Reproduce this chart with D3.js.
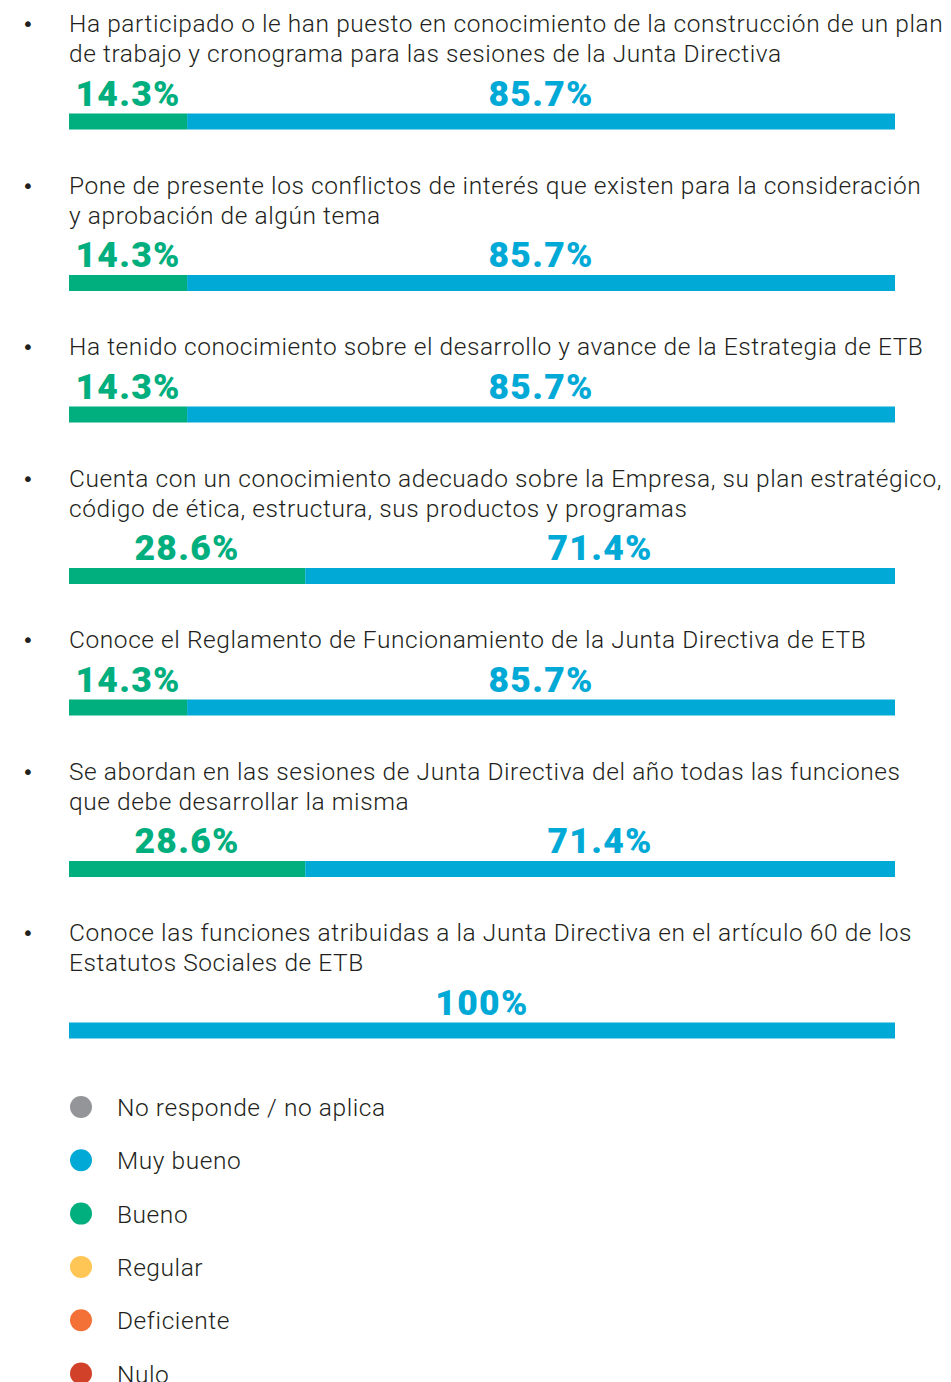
<!DOCTYPE html>
<html>
<head>
<meta charset="utf-8">
<script src="https://cdn.jsdelivr.net/npm/d3@7/dist/d3.min.js"></script>
<style>
html,body{margin:0;padding:0;background:#fff;}
svg{display:block;}
</style>
</head>
<body>
<svg id="chart" width="951" height="1382"></svg>
<script>
const questions = [
  ["Ha participado o le han puesto en conocimiento de la construcción de un plan", "de trabajo y cronograma para las sesiones de la Junta Directiva"],
  ["Pone de presente los conflictos de interés que existen para la consideración", "y aprobación de algún tema"],
  ["Ha tenido conocimiento sobre el desarrollo y avance de la Estrategia de ETB"],
  ["Cuenta con un conocimiento adecuado sobre la Empresa, su plan estratégico,", "código de ética, estructura, sus productos y programas"],
  ["Conoce el Reglamento de Funcionamiento de la Junta Directiva de ETB"],
  ["Se abordan en las sesiones de Junta Directiva del año todas las funciones", "que debe desarrollar la misma"],
  ["Conoce las funciones atribuidas a la Junta Directiva en el artículo 60 de los", "Estatutos Sociales de ETB"]
];
const bueno    = [14.3, 14.3, 14.3, 28.6, 14.3, 28.6, 0];
const muyBueno = [85.7, 85.7, 85.7, 71.4, 85.7, 71.4, 100];
const legendLabels = ["No responde / no aplica", "Muy bueno", "Bueno", "Regular", "Deficiente", "Nulo"];
const legendColors = ["#939598", "#00a9d6", "#00ae7e", "#ffc655", "#f37136", "#d1412a"];

const C_BLUE = "#00a9d6", C_GREEN = "#00ae7e", C_TEXT = "#231f20";
const svg = d3.select("#chart");
const x = d3.scaleLinear().domain([0, 100]).range([69, 895]);

const lineH = 30, barH = 16;
let y0 = 32; // baseline of first line of first block
const rows = questions.map((lines, i) => {
  const base = y0;
  const barTop = base + (lines.length - 1) * lineH + 51.5;
  y0 = barTop + 80;
  return {lines, base, barTop, bueno: bueno[i], muy: muyBueno[i]};
});

const g = svg.selectAll("g.row").data(rows).join("g").attr("class", "row");

g.append("text").attr("x", 22).attr("y", d => d.base - 1)
  .attr("font-family", "DejaVu Sans").attr("font-size", 20).attr("fill", C_TEXT).text("•");

g.each(function(d) {
  const gg = d3.select(this);
  d.lines.forEach((ln, j) => {
    gg.append("text").attr("x", 69).attr("y", d.base + j * lineH)
      .attr("font-family", "Roboto").attr("font-weight", 300).attr("font-size", 24.5)
      .attr("letter-spacing", 0.57)
      .attr("fill", C_TEXT).text(ln);
  });
  const segs = [];
  if (d.bueno > 0) segs.push({a: 0, b: d.bueno, c: C_GREEN});
  if (d.muy > 0) segs.push({a: d.bueno, b: d.bueno + d.muy, c: C_BLUE});
  segs.forEach(s => {
    gg.append("rect").attr("x", x(s.a)).attr("y", d.barTop)
      .attr("width", x(Math.min(100, s.b)) - x(s.a)).attr("height", barH).attr("fill", s.c);
    gg.append("text").attr("x", (x(s.a) + x(Math.min(100, s.b))) / 2).attr("y", d.barTop - 8)
      .attr("text-anchor", "middle").attr("font-family", "Roboto").attr("font-weight", 900)
      .attr("font-size", 35.5).attr("letter-spacing", 1.3).attr("fill", s.c)
      .text(((s.b - s.a) === 100 ? "100" : (s.b - s.a).toFixed(1)) + "%");
  });
});

const lg = svg.selectAll("g.leg").data(legendLabels).join("g").attr("class", "leg")
  .attr("transform", (d, i) => `translate(0,${1107 + i * 53.3})`);
lg.append("circle").attr("cx", 81).attr("cy", 0).attr("r", 11).attr("fill", (d, i) => legendColors[i]);
lg.append("text").attr("x", 117).attr("y", 9).attr("font-family", "Roboto").attr("font-weight", 300)
  .attr("font-size", 24.5).attr("letter-spacing", 0.57).attr("fill", C_TEXT).text(d => d);
</script>
</body>
</html>
